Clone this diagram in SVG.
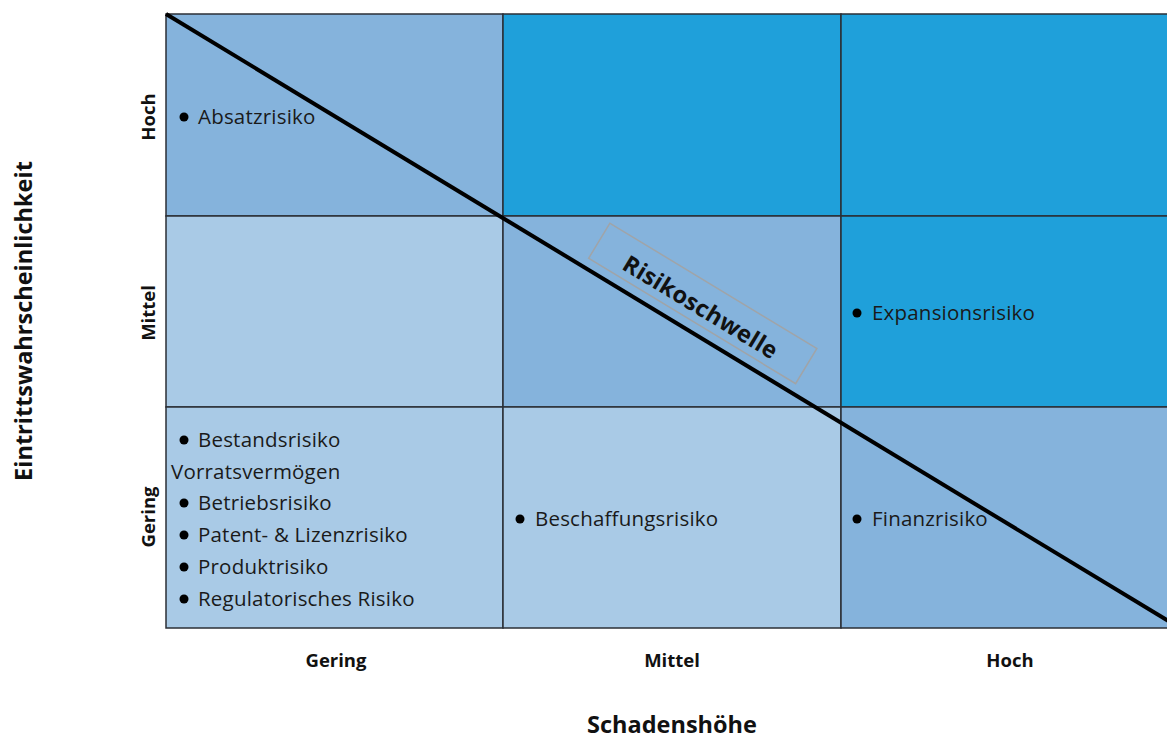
<svg xmlns="http://www.w3.org/2000/svg" width="1167" height="738" viewBox="0 0 1167 738">
  <style>
    .cell { stroke: #2b2f36; stroke-width: 1.5; }
    .light { fill: #a9cae6; }
    .mid { fill: #85b3dc; }
    .hot { fill: #1fa0da; }
    .item { font-family: "Open Sans", "Liberation Sans", sans-serif; font-size: 20.5px; letter-spacing: 0.2px; fill: #1a1a1a; }
    .axis { font-family: "Open Sans", "Liberation Sans", sans-serif; font-size: 18.5px; font-weight: bold; fill: #111; text-anchor: middle; }
    .title { font-family: "Open Sans", "Liberation Sans", sans-serif; font-size: 23.5px; font-weight: bold; fill: #111; text-anchor: middle; }
    .dot { fill: #000; }
  </style>
  <rect width="1167" height="738" fill="#ffffff"/>

  <!-- risk matrix cells -->
  <g id="matrix">
    <rect class="cell mid" x="166" y="14" width="337" height="202"/>
    <rect class="cell hot" x="503" y="14" width="338" height="202"/>
    <rect class="cell hot" x="841" y="14" width="340" height="202"/>
    <rect class="cell light" x="166" y="216" width="337" height="191"/>
    <rect class="cell mid" x="503" y="216" width="338" height="191"/>
    <rect class="cell hot" x="841" y="216" width="340" height="191"/>
    <rect class="cell light" x="166" y="407" width="337" height="221"/>
    <rect class="cell light" x="503" y="407" width="338" height="221"/>
    <rect class="cell mid" x="841" y="407" width="340" height="221"/>
  </g>

  <!-- threshold line -->
  <g id="connectors">
    <line x1="166" y1="14" x2="1170" y2="622" stroke="#000" stroke-width="4"/>
  </g>

  <g id="threshold-label" transform="translate(703,303) rotate(31.2)">
    <rect x="-121" y="-20" width="242" height="41" fill="none" stroke="#a0a4a8" stroke-width="1.5"/>
    <text x="0" y="13" class="title" font-size="26.5" letter-spacing="0.3">Risikoschwelle</text>
  </g>

  <!-- risks in cells -->
  <g id="cell-high-low">
    <circle class="dot" cx="184" cy="117" r="4.5"/>
    <text class="item" x="198" y="124">Absatzrisiko</text>
  </g>
  <g id="cell-mid-high">
    <circle class="dot" cx="857" cy="313" r="4.5"/>
    <text class="item" x="872" y="320">Expansionsrisiko</text>
  </g>
  <g id="cell-low-mid">
    <circle class="dot" cx="520" cy="519" r="4.5"/>
    <text class="item" x="535" y="526">Beschaffungsrisiko</text>
  </g>
  <g id="cell-low-high">
    <circle class="dot" cx="857" cy="519" r="4.5"/>
    <text class="item" x="872" y="526">Finanzrisiko</text>
  </g>
  <g id="cell-low-low">
    <circle class="dot" cx="184" cy="440" r="4.5"/>
    <text class="item" x="198" y="447">Bestandsrisiko</text>
    <text class="item" x="171" y="479">Vorratsvermögen</text>
    <circle class="dot" cx="184" cy="503" r="4.5"/>
    <text class="item" x="198" y="510">Betriebsrisiko</text>
    <circle class="dot" cx="184" cy="535" r="4.5"/>
    <text class="item" x="198" y="542">Patent- &amp; Lizenzrisiko</text>
    <circle class="dot" cx="184" cy="567" r="4.5"/>
    <text class="item" x="198" y="574">Produktrisiko</text>
    <circle class="dot" cx="184" cy="599" r="4.5"/>
    <text class="item" x="198" y="606">Regulatorisches Risiko</text>
  </g>

  <!-- axis labels -->
  <g id="y-axis">
    <text class="axis" transform="translate(155,117) rotate(-90)">Hoch</text>
    <text class="axis" transform="translate(155,313) rotate(-90)">Mittel</text>
    <text class="axis" transform="translate(155,517) rotate(-90)">Gering</text>
    <text class="title" transform="translate(32,321) rotate(-90)">Eintrittswahrscheinlichkeit</text>
  </g>
  <g id="x-axis">
    <text class="axis" x="336" y="667">Gering</text>
    <text class="axis" x="672" y="667">Mittel</text>
    <text class="axis" x="1010" y="667">Hoch</text>
    <text class="title" x="672" y="733">Schadenshöhe</text>
  </g>
</svg>
